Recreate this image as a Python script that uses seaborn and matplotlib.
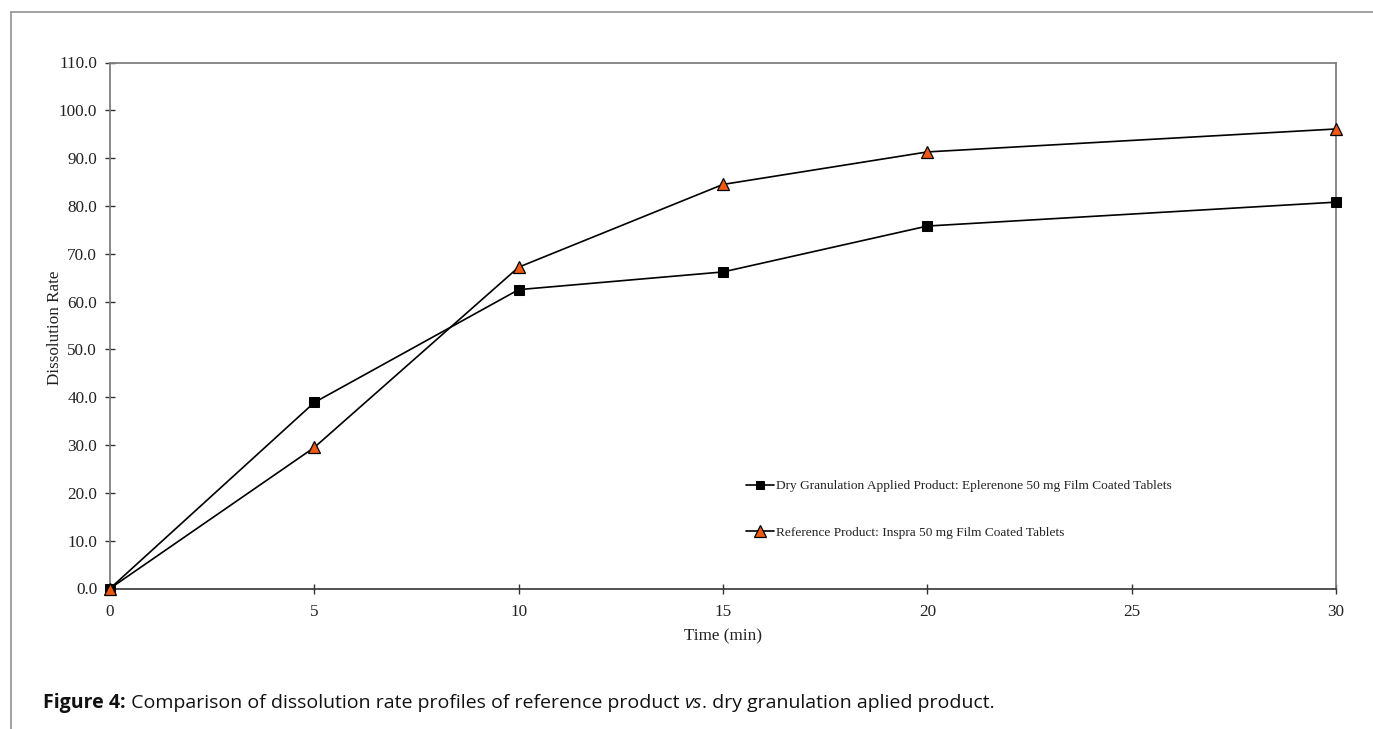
import matplotlib
matplotlib.use("Agg")
import matplotlib.pyplot as plt
import seaborn as sns
import pandas as pd
from matplotlib.lines import Line2D

# ---- data ----
time_min = [0, 5, 10, 15, 20, 30]
dry_granulation = [0.0, 38.9, 62.5, 66.2, 75.8, 80.8]
reference_product = [0.0, 29.5, 67.2, 84.5, 91.3, 96.1]
label_dry = "Dry Granulation Applied Product: Eplerenone 50 mg Film Coated Tablets"
label_ref = "Reference Product: Inspra 50 mg Film Coated Tablets"
x_ticks = [0, 5, 10, 15, 20, 25, 30]
y_ticks = [0, 10, 20, 30, 40, 50, 60, 70, 80, 90, 100, 110]

sns.set_theme(style="white")
plt.rcParams['font.family'] = ['Liberation Serif', 'DejaVu Serif']

W, H = 1373, 729
AX_L, AX_R, AX_T, AX_B = 110, 1336, 62.5, 588.5
fig = plt.figure(figsize=(W / 100, H / 100), dpi=100)
ax = fig.add_axes([AX_L / W, 1 - AX_B / H, (AX_R - AX_L) / W, (AX_B - AX_T) / H])

df_dry = pd.DataFrame({"t": time_min, "v": dry_granulation})
df_ref = pd.DataFrame({"t": time_min, "v": reference_product})

orange = "#EE5A14"
sns.lineplot(data=df_dry, x="t", y="v", ax=ax, color="black", linewidth=1.2,
             marker="s", markersize=7, markerfacecolor="black",
             markeredgecolor="black", label=label_dry, clip_on=False, zorder=3)
sns.lineplot(data=df_ref, x="t", y="v", ax=ax, color="black", linewidth=1.2,
             marker="^", markersize=9, markerfacecolor=orange,
             markeredgecolor="black", markeredgewidth=0.9, label=label_ref,
             clip_on=False, zorder=4)

ax.set_xlim(0, 30)
ax.set_ylim(0, 110)
ax.set_xticks(x_ticks)
ax.set_xticklabels([str(t) for t in x_ticks])
ax.set_yticks(y_ticks)
ax.set_yticklabels([f"{v:.1f}" for v in y_ticks])

for s in ["left", "top", "right"]:
    ax.spines[s].set_color("#7f7f7f")
    ax.spines[s].set_linewidth(1.3)
    ax.spines[s].set_visible(True)
ax.spines["bottom"].set_color("#333333")
ax.spines["bottom"].set_linewidth(1.2)

ax.tick_params(axis="both", direction="inout", length=7.5, width=1.0,
               color="#333333", labelsize=12.3, labelcolor="#222222",
               left=True, bottom=True)
ax.tick_params(axis="y", pad=5.5)
ax.tick_params(axis="x", pad=7.5)

ax.set_xlabel("Time (min)", fontsize=12.3, color="#222222", labelpad=6)
ax.set_ylabel("Dissolution Rate", fontsize=12.3, color="#222222")
ax.yaxis.set_label_coords((63 - AX_L) / (AX_R - AX_L), (AX_B - 328) / (AX_B - AX_T))

leg = ax.legend(loc="upper left", bbox_to_anchor=(746 / W, 1 - 480 / H),
                bbox_transform=fig.transFigure, frameon=False,
                fontsize=9.6, handlelength=2.1, handletextpad=0.15,
                labelspacing=2.55, borderpad=0, borderaxespad=0,
                markerscale=0.9)
for t in leg.get_texts():
    t.set_color("#222222")

# outer frame lines
fig.add_artist(Line2D([11.5 / W, 11.5 / W], [0, 1 - 11.5 / H], transform=fig.transFigure,
                      color="#9a9a9a", linewidth=1.3))
fig.add_artist(Line2D([11.5 / W, 1], [1 - 11.5 / H, 1 - 11.5 / H], transform=fig.transFigure,
                      color="#9a9a9a", linewidth=1.3))

# caption
cap_parts = [("Figure 4:", "bold", "normal"),
             (" Comparison of dissolution rate profiles of reference product ", "normal", "normal"),
             ("vs", "normal", "italic"),
             (". dry granulation aplied product.", "normal", "normal")]
renderer = fig.canvas.get_renderer()
x = 43
cap_fs = 14.0
for txt, w, st in cap_parts:
    t = fig.text(x / W, 1 - 708 / H, txt, fontsize=cap_fs, fontweight=w, fontstyle=st,
                 family=["Open Sans", "DejaVu Sans"], color="#111111",
                 ha="left", va="baseline")
    bb = t.get_window_extent(renderer=renderer)
    x += bb.width

fig.savefig("out.png", dpi=100, facecolor="white")
